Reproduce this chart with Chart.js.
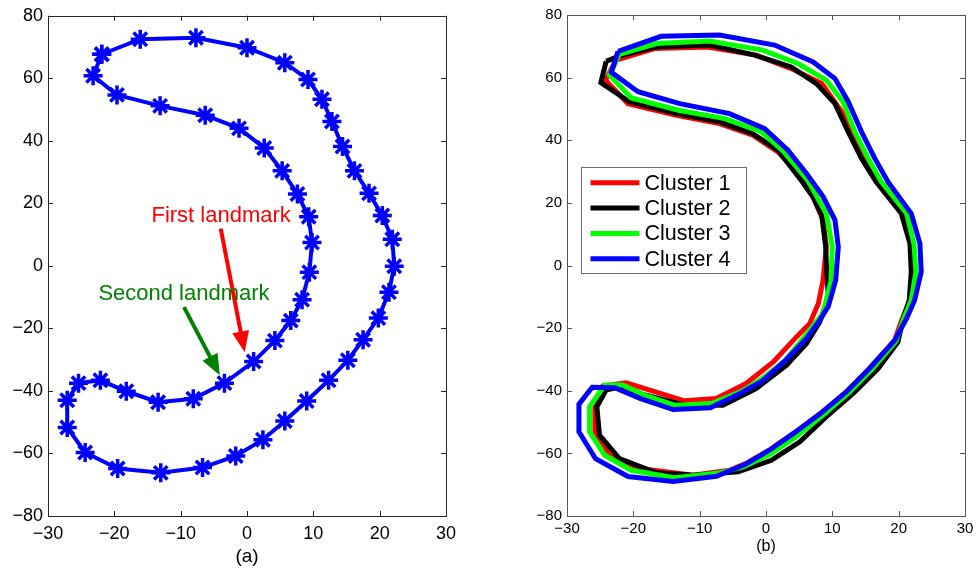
<!DOCTYPE html>
<html>
<head>
<meta charset="utf-8">
<script src="https://cdn.jsdelivr.net/npm/chart.js@4.4.1/dist/chart.umd.min.js"></script>
<style>
  body { margin: 0; background: #fff; }
  #wrap { position: relative; width: 979px; height: 577px; }
  canvas { position: absolute; top: 0; }
  #left { left: 0; }
  #right { left: 489px; }
</style>
</head>
<body>
<div id="wrap">
  <canvas id="left" width="489" height="577"></canvas>
  <canvas id="right" width="490" height="577"></canvas>
</div>
<script>
const FONT = "'Liberation Sans', Arial, Helvetica, sans-serif";

const xTicks = [-30, -20, -10, 0, 10, 20, 30];
const yTicks = [-80, -60, -40, -20, 0, 20, 40, 60, 80];

// (a) landmarks on the contour, clockwise from the top-left corner
const shapeX = [-21.9, -16.1, -7.7, 0.0, 5.7, 9.2, 11.3, 12.8, 14.4, 16.2, 18.4, 20.4, 21.9, 22.2, 21.4, 19.8, 17.5, 15.2, 12.3, 9.0,
  5.7, 2.4, -1.7, -6.7, -13.0, -19.5, -24.4, -27.1, -27.1, -25.4, -22.1, -18.2, -13.4, -8.1, -3.4, 1.0, 4.2, 6.6, 8.3, 9.4,
  9.8, 9.3, 7.6, 5.3, 2.6, -1.2, -6.3, -13.1, -19.6, -23.2];
const shapeY = [67.7, 72.5, 73.0, 69.8, 65.0, 59.6, 53.3, 46.2, 38.2, 30.4, 23.2, 16.1, 8.5, -0.1, -8.4, -16.7, -23.6, -30.2, -36.6, -43.2,
  -49.6, -55.6, -60.8, -64.5, -66.2, -64.8, -59.7, -51.7, -43.0, -37.5, -36.6, -40.1, -43.6, -42.5, -37.5, -30.6, -23.9, -17.5, -10.8, -2.0,
  7.5, 15.7, 23.0, 30.4, 37.7, 44.0, 48.2, 51.2, 54.7, 60.8];

// annotations in (a), data coordinates
const noteText = ["First landmark", "Second landmark"];
const noteColor = ["#ff0000", "#008000"];
const noteX = [-3.9, -9.5];
const noteY = [16.1, -8.9];
const arrowFromX = [-3.96, -9.5];
const arrowFromY = [11.9, -13.2];
const arrowToX = [-0.35, -4.1];
const arrowToY = [-27.6, -35.0];

// (b) cluster mean shapes
const clusterNames = ["Cluster 1", "Cluster 2", "Cluster 3", "Cluster 4"];
const clusterColors = ["#ff0000", "#000000", "#00ff00", "#0000ff"];

const cluster1X = [-22.6, -16.8, -8.8, -1.5, 3.8, 8.4, 11.6, 13.2, 15.2, 17.2, 20.9, 22.0, 22.3, 21.7, 20.5, 19.4, 15.6, 12.1, 8.2, 4.1,
  0.5, -2.8, -5.5, -11.0, -19.1, -23.6, -25.8, -25.8, -24.6, -21.1, -12.3, -7.5, -3.0, 1.1, 4.6, 6.6, 7.9, 8.6, 9.1, 8.6,
  7.1, 4.6, 1.8, -2.0, -7.0, -13.5, -20.8, -24.2];
const cluster1Y = [65.6, 69.3, 69.8, 67.2, 62.9, 58.1, 48.5, 42.7, 34.2, 26.7, 16.6, 7.0, -2.0, -11.1, -17.2, -23.9, -32.9, -40.4, -47.3, -53.7,
  -59.0, -63.0, -65.4, -67.0, -64.8, -60.6, -53.7, -45.1, -38.5, -37.5, -43.2, -42.5, -37.7, -30.8, -22.8, -18.5, -12.1, -4.7, 6.0, 14.5,
  21.9, 29.9, 36.3, 41.6, 45.3, 48.0, 51.7, 59.2];

const cluster2X = [-24.1, -22.0, -16.5, -8.5, -1.7, 3.8, 7.6, 10.4, 12.4, 14.4, 16.6, 20.4, 21.7, 21.9, 21.6, 20.6, 19.9, 16.9, 13.1, 9.1,
  5.1, 0.8, -4.2, -11.0, -16.5, -22.1, -25.1, -25.5, -24.1, -22.5, -12.4, -6.5, -1.5, 3.1, 6.1, 8.1, 9.4, 9.1, 9.0, 8.4,
  7.1, 5.3, 1.8, -2.0, -7.0, -13.5, -20.6, -24.9];
const cluster2Y = [65.2, 67.0, 69.8, 70.4, 67.2, 63.4, 58.1, 51.7, 42.7, 34.2, 26.7, 16.6, 7.0, -2.0, -11.1, -17.5, -24.4, -32.9, -40.9, -48.3,
  -56.3, -62.2, -65.9, -67.0, -66.2, -61.7, -54.2, -45.1, -39.8, -39.0, -44.5, -44.6, -39.3, -31.8, -24.9, -18.0, -10.0, 0.6, 6.0, 16.0,
  21.9, 27.2, 36.8, 42.1, 45.9, 48.5, 52.3, 58.4];

const cluster3X = [-22.1, -16.5, -8.5, -0.5, 4.8, 9.1, 11.6, 13.4, 15.4, 17.4, 21.2, 22.3, 22.6, 21.9, 20.7, 19.6, 16.0, 12.5, 8.6, 4.6,
  0.6, -3.4, -7.2, -13.8, -20.3, -24.3, -26.6, -26.6, -24.3, -21.6, -18.3, -13.8, -8.2, -3.5, -0.5, 2.8, 5.8, 8.6, 9.8, 10.0,
  9.1, 6.3, 2.6, -0.8, -6.2, -13.2, -20.3, -23.6];
const cluster3Y = [67.4, 70.9, 71.7, 68.8, 64.5, 59.2, 52.3, 42.7, 34.2, 26.7, 16.6, 7.0, -2.0, -11.1, -17.2, -24.2, -33.1, -40.6, -47.8, -54.6,
  -60.3, -64.3, -66.3, -67.8, -65.4, -60.6, -53.1, -45.1, -38.2, -38.2, -41.4, -44.6, -44.1, -40.0, -36.0, -30.5, -22.8, -15.3, -4.7, 6.0,
  16.6, 27.2, 36.5, 42.8, 46.9, 49.6, 53.5, 60.8];

const cluster4X = [-22.3, -15.8, -7.0, 1.3, 7.1, 10.4, 12.4, 14.4, 16.4, 18.4, 21.9, 23.2, 23.4, 22.4, 21.2, 19.4, 15.6, 12.1, 8.2, 4.1,
  0.5, -3.0, -7.5, -14.0, -20.8, -25.7, -28.2, -28.2, -26.2, -22.8, -18.9, -14.0, -8.4, -4.0, -0.5, 3.0, 6.1, 8.1, 9.4, 10.5,
  10.9, 10.4, 8.6, 6.1, 3.3, -0.2, -5.5, -13.0, -19.3, -23.3];
const cluster4Y = [68.4, 73.2, 73.6, 70.4, 65.0, 59.7, 52.3, 42.7, 34.2, 26.7, 16.6, 7.0, -2.0, -11.1, -16.9, -23.9, -32.9, -40.4, -47.3, -53.7,
  -59.0, -63.4, -67.3, -69.0, -67.4, -61.7, -53.1, -44.3, -38.9, -39.0, -42.5, -46.0, -45.4, -41.0, -36.8, -30.2, -23.3, -17.5, -13.0, -4.7,
  6.0, 14.5, 22.0, 29.4, 36.8, 43.7, 48.5, 51.7, 55.5, 61.7];

const clusterXs = [cluster1X, cluster2X, cluster3X, cluster4X];
const clusterYs = [cluster1Y, cluster2Y, cluster3Y, cluster4Y];

// closed polygon as {x, y} points
function loop(xs, ys) {
  const pts = xs.map((x, i) => ({ x: x, y: ys[i] }));
  pts.push({ x: xs[0], y: ys[0] });
  return pts;
}

function tickLabel(v) {
  return v < 0 ? "\u2212" + Math.abs(v) : String(v);
}

function axes(fontSize, yWidth, xHeight, xPad, yPad, title, titleSize, titlePad) {
  const font = { family: FONT, size: fontSize };
  return {
    x: {
      type: "linear", min: -30, max: 30,
      afterBuildTicks: s => { s.ticks = xTicks.map(v => ({ value: v })); },
      ticks: { font: font, color: "#000", padding: xPad, maxRotation: 0, autoSkip: false, callback: tickLabel },
      grid: { display: false, drawTicks: false },
      border: { display: false },
      title: { display: true, text: title, color: "#000", font: { family: FONT, size: titleSize }, padding: { top: 0, bottom: titlePad } },
      afterFit: s => { s.height = xHeight; }
    },
    y: {
      type: "linear", min: -80, max: 80,
      afterBuildTicks: s => { s.ticks = yTicks.map(v => ({ value: v })); },
      ticks: { font: font, color: "#000", padding: yPad, autoSkip: false, callback: tickLabel },
      grid: { display: false, drawTicks: false },
      border: { display: false },
      afterFit: s => { s.width = yWidth; }
    }
  };
}

// axes box with inward tick marks on all four sides
const frame = {
  id: "frame",
  afterDatasetsDraw(chart, args, opts) {
    const { ctx, chartArea: a, scales: { x, y } } = chart;
    const len = 5;
    ctx.save();
    ctx.strokeStyle = opts.color;
    ctx.lineWidth = 1;
    ctx.beginPath();
    x.ticks.forEach(t => {
      const p = Math.round(x.getPixelForValue(t.value)) + 0.5;
      ctx.moveTo(p, a.bottom); ctx.lineTo(p, a.bottom - len);
      ctx.moveTo(p, a.top); ctx.lineTo(p, a.top + len);
    });
    y.ticks.forEach(t => {
      const p = Math.round(y.getPixelForValue(t.value)) + 0.5;
      ctx.moveTo(a.left, p); ctx.lineTo(a.left + len, p);
      ctx.moveTo(a.right, p); ctx.lineTo(a.right - len, p);
    });
    ctx.stroke();
    ctx.strokeRect(Math.round(a.left) + 0.5, Math.round(a.top) + 0.5, Math.round(a.width), Math.round(a.height));
    ctx.restore();
  }
};

const notes = {
  id: "notes",
  afterDatasetsDraw(chart) {
    const { ctx, scales: { x, y } } = chart;
    ctx.save();
    noteText.forEach((txt, i) => {
      const c = noteColor[i];
      const x0 = x.getPixelForValue(arrowFromX[i]), y0 = y.getPixelForValue(arrowFromY[i]);
      const x1 = x.getPixelForValue(arrowToX[i]), y1 = y.getPixelForValue(arrowToY[i]);
      const ang = Math.atan2(y1 - y0, x1 - x0);
      const hl = 21, hw = 8.5;
      const bx = x1 - hl * Math.cos(ang), by = y1 - hl * Math.sin(ang);
      ctx.strokeStyle = c;
      ctx.lineWidth = 4;
      ctx.beginPath();
      ctx.moveTo(x0, y0);
      ctx.lineTo(bx + 3 * Math.cos(ang), by + 3 * Math.sin(ang));
      ctx.stroke();
      ctx.fillStyle = c;
      ctx.beginPath();
      ctx.moveTo(x1, y1);
      ctx.lineTo(bx + hw * Math.sin(ang), by - hw * Math.cos(ang));
      ctx.lineTo(bx - hw * Math.sin(ang), by + hw * Math.cos(ang));
      ctx.closePath();
      ctx.fill();
      ctx.font = "22px " + FONT;
      ctx.textAlign = "center";
      ctx.textBaseline = "middle";
      ctx.fillText(txt, x.getPixelForValue(noteX[i]), y.getPixelForValue(noteY[i]));
    });
    ctx.restore();
  }
};

// boxed legend inside the plot of (b)
const boxLegend = {
  id: "boxLegend",
  afterDraw(chart) {
    const { ctx, chartArea: a } = chart;
    const left = Math.round(a.left + 13.5) + 0.5, top = Math.round(a.top + 152) + 0.5;
    ctx.save();
    ctx.fillStyle = "#fff";
    ctx.fillRect(left, top, 165, 106);
    ctx.strokeStyle = "#6e6e6e";
    ctx.lineWidth = 1;
    ctx.strokeRect(left, top, 165, 106);
    ctx.font = "21.5px " + FONT;
    ctx.textAlign = "left";
    ctx.textBaseline = "middle";
    chart.data.datasets.forEach((ds, i) => {
      const yy = top + 15.3 + i * 25.3;
      ctx.strokeStyle = ds.borderColor;
      ctx.lineWidth = 5;
      ctx.beginPath();
      ctx.moveTo(left + 9, yy);
      ctx.lineTo(left + 58, yy);
      ctx.stroke();
      ctx.fillStyle = "#000";
      ctx.fillText(ds.label, left + 63, yy + 1);
    });
    ctx.restore();
  }
};

new Chart(document.getElementById("left"), {
  type: "scatter",
  data: {
    datasets: [{
      label: "landmarks",
      data: loop(shapeX, shapeY),
      showLine: true,
      borderColor: "#0000ff",
      borderWidth: 4,
      tension: 0,
      pointStyle: "star",
      pointRadius: 9.5,
      pointBorderWidth: 3.5,
      pointBorderColor: "#0000ff",
      pointBackgroundColor: "#0000ff"
    }]
  },
  options: {
    responsive: false,
    devicePixelRatio: 1,
    animation: false,
    layout: { padding: { left: 0, top: 15, right: 43, bottom: 0 } },
    scales: axes(18, 48, 61, 7, 5, "(a)", 19, 9),
    plugins: { legend: { display: false }, tooltip: { enabled: false }, frame: { color: "#262626" } }
  },
  plugins: [frame, notes]
});

new Chart(document.getElementById("right"), {
  type: "scatter",
  data: {
    datasets: clusterNames.map((name, i) => ({
      label: name,
      data: loop(clusterXs[i], clusterYs[i]),
      showLine: true,
      borderColor: clusterColors[i],
      borderWidth: 5,
      tension: 0,
      pointRadius: 0,
      order: clusterNames.length - i
    }))
  },
  options: {
    responsive: false,
    devicePixelRatio: 1,
    animation: false,
    layout: { padding: { left: 0, top: 15, right: 14, bottom: 0 } },
    scales: axes(15, 78, 61, 4, 5, "(b)", 16, 21),
    plugins: { legend: { display: false }, tooltip: { enabled: false }, frame: { color: "#555" } }
  },
  plugins: [frame, boxLegend]
});
</script>
</body>
</html>
